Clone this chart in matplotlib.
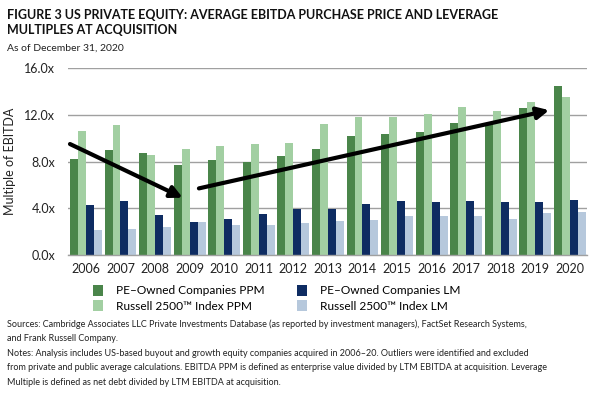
import numpy as np
import matplotlib.pyplot as plt

years = [str(y) for y in range(2006, 2021)]
pe_ppm = [8.2, 9.0, 8.7, 7.7, 8.1, 8.0, 8.5, 9.1, 10.2, 10.4, 10.5, 11.3, 11.3, 12.6, 14.5]
r_ppm = [10.6, 11.1, 8.6, 9.1, 9.3, 9.5, 9.6, 11.2, 11.8, 11.8, 12.1, 12.7, 12.3, 13.1, 13.5]
pe_lm = [4.3, 4.6, 3.4, 2.8, 3.1, 3.5, 3.9, 3.9, 4.4, 4.6, 4.5, 4.6, 4.5, 4.5, 4.7]
r_lm = [2.1, 2.2, 2.4, 2.8, 2.6, 2.6, 2.7, 2.9, 3.0, 3.3, 3.3, 3.3, 3.1, 3.6, 3.7]

series = [pe_ppm, r_ppm, pe_lm, r_lm]
names = ["PE\u2013Owned Companies PPM", "Russell 2500\u2122 Index PPM",
         "PE\u2013Owned Companies LM", "Russell 2500\u2122 Index LM"]
colors = ["#4a854a", "#a2cfa2", "#0e2c62", "#b6c8dc"]

plt.rcParams['font.family'] = ['Lato', 'DejaVu Sans']

fig = plt.figure(figsize=(6.01, 3.94), dpi=100)
ax = fig.add_axes([0.113, 0.353, 0.864, 0.474])

x = np.arange(len(years))
w = 0.23
bars = []
for k, (vals, c) in enumerate(zip(series, colors)):
    b = ax.bar(x + (k - 1.5) * w, vals, w, color=c, zorder=2)
    bars.append(b)

ax.set_ylim(0, 16)
ax.set_xlim(-0.52, 14.5)
ax.set_yticks([0, 4, 8, 12, 16])
ax.set_yticklabels(["0.0x", "4.0x", "8.0x", "12.0x", "16.0x"], fontsize=9, color="#222222")
ax.set_xticks(x)
ax.set_xticklabels(years, fontsize=9, color="#222222")
ax.tick_params(length=0, pad=6)
ax.tick_params(axis="y", pad=9)
ax.yaxis.grid(True, color="#a0a0a0", linewidth=1, zorder=0)
for s in ["top", "right", "left"]:
    ax.spines[s].set_visible(False)
ax.spines["bottom"].set_color("#a0a0a0")
ax.spines["bottom"].set_linewidth(1)
ax.set_ylabel("Multiple of EBITDA", fontsize=9, color="#222222", labelpad=6)

# trend arrows
arrow = dict(arrowstyle="-|>,head_length=0.7,head_width=0.35", color="black", lw=3,
             shrinkA=0, shrinkB=0)
ax.annotate("", xy=(2.8, 4.9), xytext=(-0.46, 9.5), arrowprops=arrow, zorder=5)
ax.annotate("", xy=(13.4, 12.4), xytext=(3.27, 5.7), arrowprops=arrow, zorder=5)

# legend, two columns placed separately
leg_kw = dict(loc="upper left", frameon=False, fontsize=8.6,
              handlelength=0.85, handleheight=1.0, labelspacing=0.35,
              handletextpad=1.1, borderpad=0, borderaxespad=0)
fig.legend([bars[0], bars[1]], names[:2], bbox_to_anchor=(0.155, 0.277), **leg_kw)
fig.legend([bars[2], bars[3]], names[2:], bbox_to_anchor=(0.494, 0.277), **leg_kw)

fig.text(0.012, 0.978, "FIGURE 3 US PRIVATE EQUITY: AVERAGE EBITDA PURCHASE PRICE AND LEVERAGE\nMULTIPLES AT ACQUISITION",
         fontsize=9.0, fontweight="bold", color="#111111", va="top", linespacing=1.35)
fig.text(0.012, 0.888, "As of December 31, 2020", fontsize=7.5, color="#222222", va="top")

notes = ("Sources: Cambridge Associates LLC Private Investments Database (as reported by investment managers), FactSet Research Systems,\n"
         "and Frank Russell Company.\n"
         "Notes: Analysis includes US-based buyout and growth equity companies acquired in 2006\u201320. Outliers were identified and excluded\n"
         "from private and public average calculations. EBITDA PPM is defined as enterprise value divided by LTM EBITDA at acquisition. Leverage\n"
         "Multiple is defined as net debt divided by LTM EBITDA at acquisition.")
fig.text(0.012, 0.19, notes, fontsize=6.45, color="#222222", va="top", linespacing=1.8)

fig.savefig("out.png", dpi=100)
